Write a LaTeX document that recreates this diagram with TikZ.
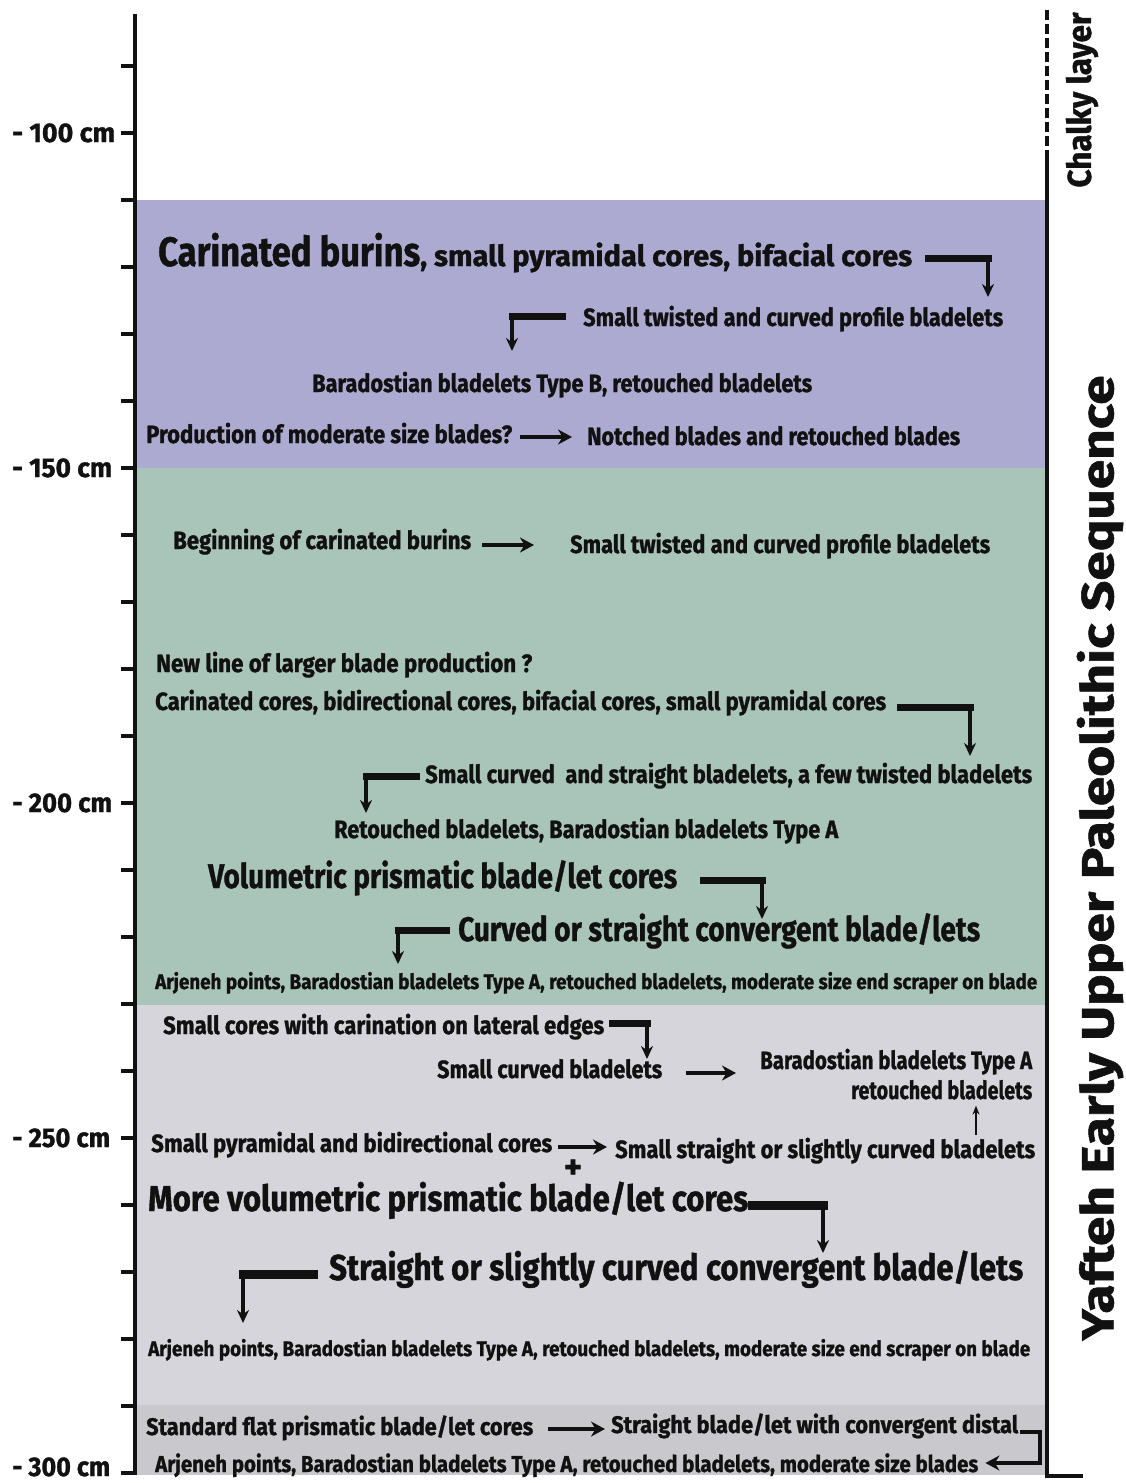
\documentclass[tikz,border=0pt]{standalone}
\usepackage{fontspec}
\newfontfamily\cf{Fira Sans}[BoldFeatures={FakeBold=1.2}]
\usetikzlibrary{arrows.meta}
\definecolor{purp}{HTML}{ADAAD2}
\definecolor{grn}{HTML}{A9C4B8}
\definecolor{lgr}{HTML}{D6D5DB}
\definecolor{dgr}{HTML}{C9C9CD}
\definecolor{ink}{HTML}{111111}
\newcommand{\fw}[2]{\resizebox{#1pt}{\height}{#2}}
\tikzset{
  txt/.style={inner sep=0pt, anchor=base west, text=ink, font=\cf\bfseries\fontsize{25}{25}\selectfont},
  bigtxt/.style={txt, font=\cf\bfseries\fontsize{34}{34}\selectfont},
  hugetxt/.style={txt, font=\cf\bfseries\fontsize{41}{41}\selectfont},
  midtxt/.style={txt, font=\cf\bfseries\fontsize{29}{29}\selectfont},
  smalltxt/.style={txt, font=\cf\bfseries\fontsize{21}{21}\selectfont},
  axlbl/.style={txt, font=\cf\bfseries\fontsize{27}{27}\selectfont},
  bar/.style={draw=ink, line width=7pt, line cap=rect},
  fatbar/.style={draw=ink, line width=9pt, line cap=rect},
  drop/.style={draw=ink, line width=3.5pt, -{Stealth[length=13pt,width=12pt]}},
  harr/.style={draw=ink, line width=4pt, -{Stealth[length=14pt,width=15pt]}},
  thinarr/.style={draw=ink, line width=1.5pt, -{Stealth[length=9pt,width=7pt]}},
  axis/.style={draw=ink, line width=4pt},
  tick/.style={draw=ink, line width=3.5pt},
}
\begin{document}
\begin{tikzpicture}[x=1pt,y=-1pt]
\useasboundingbox (0,0) rectangle (1126,1483);
\fill[white] (0,0) rectangle (1126,1483);
% bands
\fill[purp] (137,200) rectangle (1045,468);
\fill[grn] (137,468) rectangle (1045,1005);
\fill[lgr] (137,1005) rectangle (1045,1405);
\fill[dgr] (137,1405) rectangle (1045,1475);
% depth axis
\draw[axis] (135,14) -- (135,1475);
\foreach \k in {-1,...,20} { \draw[tick] (121,133+67*\k) -- (135,133+67*\k); }
\node[axlbl] (d100) at (12,142) {\fw{103}{- 100 cm}};
\node[axlbl] (d150) at (12,477) {\fw{100}{- 150 cm}};
\node[axlbl] (d200) at (12,812) {\fw{100}{- 200 cm}};
\node[axlbl] (d250) at (12,1147) {\fw{98}{- 250 cm}};
\node[axlbl] (d300) at (12,1476) {\fw{98}{- 300 cm}};
% right line
\draw[draw=ink, line width=3.5pt, dash pattern=on 10pt off 4pt] (1047,10) -- (1047,150);
\draw[draw=ink, line width=3.5pt] (1047,150) -- (1047,1476) -- (1083,1476);
\node[rotate=90, inner sep=0pt, text=ink, font=\cf\bfseries\fontsize{33}{33}\selectfont] (chalk) at (1082,100) {\fw{175}{Chalky layer}};
\node[rotate=90, inner sep=0pt, text=ink, font=\cf\bfseries\fontsize{45}{45}\selectfont] (title) at (1100,858) {\fw{965}{Yafteh Early Upper Paleolithic Sequence}};

% ---- purple band
\node[hugetxt] (p1a) at (158,266) {\fw{262}{Carinated burins}};
\node[midtxt] (p1b) at (420,266) {\fw{492}{, small pyramidal cores, bifacial cores}};
\node[txt] (p2) at (583,326) {\fw{420}{Small twisted and curved profile bladelets}};
\node[txt] (p3) at (312,392) {\fw{500}{Baradostian bladelets Type B, retouched bladelets}};
\node[txt] (p4a) at (146,443) {\fw{366}{Production of moderate size blades?}};
\node[txt] (p4b) at (587,445) {\fw{373}{Notched blades and retouched blades}};
\coordinate (A1) at (928,258); \coordinate (B1) at (988,297);
\draw[bar] (A1) -- (A1 -| B1); \draw[drop] (A1 -| B1) -- (B1);
\coordinate (A2) at (562,316); \coordinate (B2) at (512,351);
\draw[bar] (A2) -- (A2 -| B2); \draw[drop] (A2 -| B2) -- (B2);
\draw[harr] ([xshift=8pt]p4a.east |- 0,437) -- ([xshift=-15pt]p4b.west |- 0,437);

% ---- green band
\node[txt] (g1a) at (173,549) {\fw{298}{Beginning of carinated burins}};
\node[txt] (g1b) at (570,553) {\fw{420}{Small twisted and curved profile bladelets}};
\draw[harr] ([xshift=11pt]g1a.east |- 0,545) -- ([xshift=-36pt]g1b.west |- 0,545);
\node[txt] (g2) at (156,672) {\fw{376}{New line of larger blade production ?}};
\node[txt] (g3) at (155,710) {\fw{731}{Carinated cores, bidirectional cores, bifacial cores, small pyramidal cores}};
\node[txt] (g4) at (425,783) {\fw{607}{Small curved \ and straight bladelets, a few twisted bladelets}};
\node[txt] (g5) at (334,838) {\fw{504}{Retouched bladelets, Baradostian bladelets Type A}};
\node[bigtxt] (g6) at (208,888) {\fw{469}{Volumetric prismatic blade/let cores}};
\node[bigtxt] (g7) at (458,941) {\fw{522}{Curved or straight convergent blade/lets}};
\node[smalltxt] (g8) at (155,989) {\fw{882}{Arjeneh points, Baradostian bladelets Type A, retouched bladelets, moderate size end scraper on blade}};
\coordinate (A7) at (900,707); \coordinate (B7) at (970,756);
\draw[bar] (A7) -- (A7 -| B7); \draw[drop] (A7 -| B7) -- (B7);
\coordinate (A8) at (416,776); \coordinate (B8) at (366,813);
\draw[bar] (A8) -- (A8 -| B8); \draw[drop] (A8 -| B8) -- (B8);
\coordinate (A10) at (703,880); \coordinate (B10) at (762,919);
\draw[bar] (A10) -- (A10 -| B10); \draw[drop] (A10 -| B10) -- (B10);
\coordinate (A11) at (446,930); \coordinate (B11) at (398,964);
\draw[bar] (A11) -- (A11 -| B11); \draw[drop] (A11 -| B11) -- (B11);

% ---- light grey band
\node[txt] (l1) at (163,1034) {\fw{441}{Small cores with carination on lateral edges}};
\node[txt] (l2) at (437,1078) {\fw{225}{Small curved bladelets}};
\node[txt] (l3a) at (760,1069) {\fw{272}{Baradostian bladelets Type A}};
\node[txt] (l3b) at (851,1099) {\fw{181}{retouched bladelets}};
\node[txt] (l4a) at (151,1152) {\fw{401}{Small pyramidal and bidirectional cores}};
\node[txt] (l4b) at (615,1158) {\fw{420}{Small straight or slightly curved bladelets}};
\node[inner sep=0pt, text=ink, font=\cf\bfseries\fontsize{34}{34}\selectfont] (plus) at (573,1169) {+};
\node[bigtxt, font=\cf\bfseries\fontsize{36}{36}\selectfont] (l5) at (148,1211) {\fw{600}{More volumetric prismatic blade/let cores}};
\node[bigtxt, font=\cf\bfseries\fontsize{36}{36}\selectfont] (l6) at (329,1280) {\fw{694}{Straight or slightly curved convergent blade/lets}};
\node[smalltxt] (l7) at (148,1356) {\fw{882}{Arjeneh points, Baradostian bladelets Type A, retouched bladelets, moderate size end scraper on blade}};
\coordinate (A13) at (612,1023); \coordinate (B13) at (647,1059);
\draw[bar] (A13) -- (A13 -| B13); \draw[drop] (A13 -| B13) -- (B13);
\draw[harr] ([xshift=24pt]l2.east |- 0,1073) -- ([xshift=-24pt]l3a.west |- 0,1073);
\coordinate (U1) at (976,1135);
\draw[thinarr] (U1) -- ([yshift=-6pt]l3b.south -| U1);
\draw[harr] ([xshift=6pt]l4a.east |- 0,1147) -- ([xshift=-8pt]l4b.west |- 0,1147);
\coordinate (A19) at (752,1205); \coordinate (B19) at (823,1253);
\draw[fatbar] (A19) -- (A19 -| B19); \draw[drop] (A19 -| B19) -- (B19);
\coordinate (A20) at (313,1274); \coordinate (B20) at (243,1323);
\draw[fatbar] (A20) -- (A20 -| B20); \draw[drop] (A20 -| B20) -- (B20);

% ---- dark grey band
\node[txt, font=\cf\bfseries\fontsize{24}{24}\selectfont] (b1a) at (146,1435) {\fw{387}{Standard flat prismatic blade/let cores}};
\node[txt, font=\cf\bfseries\fontsize{24}{24}\selectfont] (b1b) at (611,1433) {\fw{407}{Straight blade/let with convergent distal}};
\node[txt, font=\cf\bfseries\fontsize{23}{23}\selectfont] (b2) at (155,1472) {\fw{823}{Arjeneh points, Baradostian bladelets Type A, retouched bladelets, moderate size blades}};
\draw[harr] ([xshift=15pt]b1a.east |- 0,1429) -- ([xshift=-6pt]b1b.west |- 0,1429);
\coordinate (C22) at (1040,1463);
\draw[draw=ink, line width=4pt, -{Stealth[length=14pt,width=15pt]}] ([xshift=2pt]b1b.east |- 0,1432) -| (C22) -- ([xshift=7pt]b2.east |- C22);
\end{tikzpicture}
\end{document}
